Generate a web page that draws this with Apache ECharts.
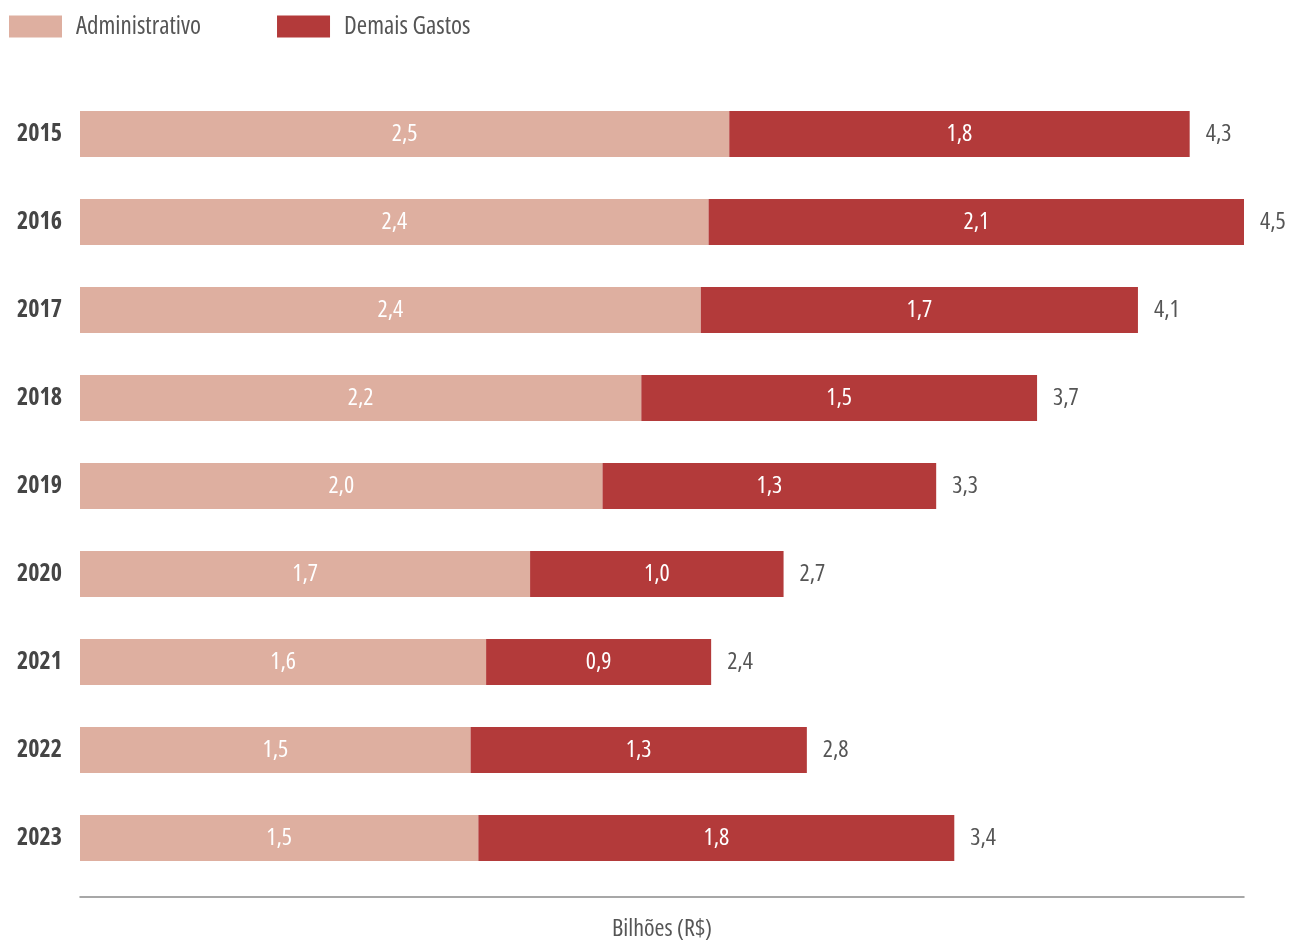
<!DOCTYPE html>
<html>
<head>
<meta charset="utf-8">
<script src="https://cdn.jsdelivr.net/npm/echarts@6/dist/echarts.min.js"></script>
<style>html,body{margin:0;padding:0;background:#fff;}#chart{width:1291px;height:940px;}</style>
</head>
<body>
<div id="chart"></div>
<script>
const years = ['2015','2016','2017','2018','2019','2020','2021','2022','2023'];
const administrativo = [2.51, 2.43, 2.40, 2.17, 2.02, 1.74, 1.57, 1.51, 1.54];
const demaisGastos = [1.78, 2.07, 1.69, 1.53, 1.29, 0.98, 0.87, 1.30, 1.84];
const seriesNames = ['Administrativo', 'Demais Gastos'];
const axisName = 'Bilhões (R$)';

const totals = administrativo.map((v, i) => v + demaisGastos[i]);
const fmt = v => (Math.round(v * 10) / 10).toFixed(1).replace('.', ',');
const FONT = '"Open Sans", "Noto Sans", sans-serif';
const STRETCH = 'condensed';

const chart = echarts.init(document.getElementById('chart'), null, {renderer: 'canvas'});
chart.setOption({
  animation: false,
  textStyle: {fontFamily: FONT},
  legend: {
    left: 9, top: 14, padding: 0,
    itemWidth: 53, itemHeight: 22, itemGap: 76,
    icon: 'rect',
    data: seriesNames,
    textStyle: {fontFamily: FONT, fontStyle: STRETCH, fontSize: 25, color: '#555', padding: [0, 0, 0, 9]}
  },
  grid: {left: 80, right: 47, top: 90, bottom: 58, outerBoundsMode: 'none', containLabel: false},
  xAxis: {
    type: 'value', min: 0, max: 4.5,
    offset: 15,
    axisLine: {show: true, lineStyle: {color: '#8a8a8a', width: 1.5}},
    axisTick: {show: false},
    axisLabel: {show: false},
    splitLine: {show: false},
    name: axisName, nameLocation: 'middle', nameGap: 20,
    nameTextStyle: {fontFamily: FONT, fontStyle: STRETCH, fontSize: 24, color: '#555'}
  },
  yAxis: {
    type: 'category', inverse: true, data: years,
    axisLine: {show: false}, axisTick: {show: false},
    axisLabel: {fontFamily: FONT, fontStyle: STRETCH, fontSize: 24, fontWeight: 'bold', color: '#454545', margin: 18}
  },
  series: [
    {
      name: seriesNames[0], type: 'bar', stack: 'total', barWidth: 46,
      itemStyle: {color: '#DEAFA0'},
      label: {show: true, position: 'inside', color: '#fff', fontFamily: FONT, fontStyle: STRETCH, fontSize: 24,
        formatter: p => fmt(p.value)},
      data: administrativo
    },
    {
      name: seriesNames[1], type: 'bar', stack: 'total', barWidth: 46,
      itemStyle: {color: '#B33A3A'},
      label: {show: true, position: 'inside', color: '#fff', fontFamily: FONT, fontStyle: STRETCH, fontSize: 24,
        formatter: p => fmt(p.value)},
      data: demaisGastos
    },
    {
      name: 'Total', type: 'bar', stack: 'total', barWidth: 46,
      itemStyle: {color: 'transparent'},
      label: {show: true, position: 'right', distance: 16, color: '#555', fontFamily: FONT, fontStyle: STRETCH, fontSize: 24,
        formatter: p => fmt(totals[p.dataIndex])},
      data: years.map(() => 0)
    }
  ]
});
</script>
</body>
</html>
